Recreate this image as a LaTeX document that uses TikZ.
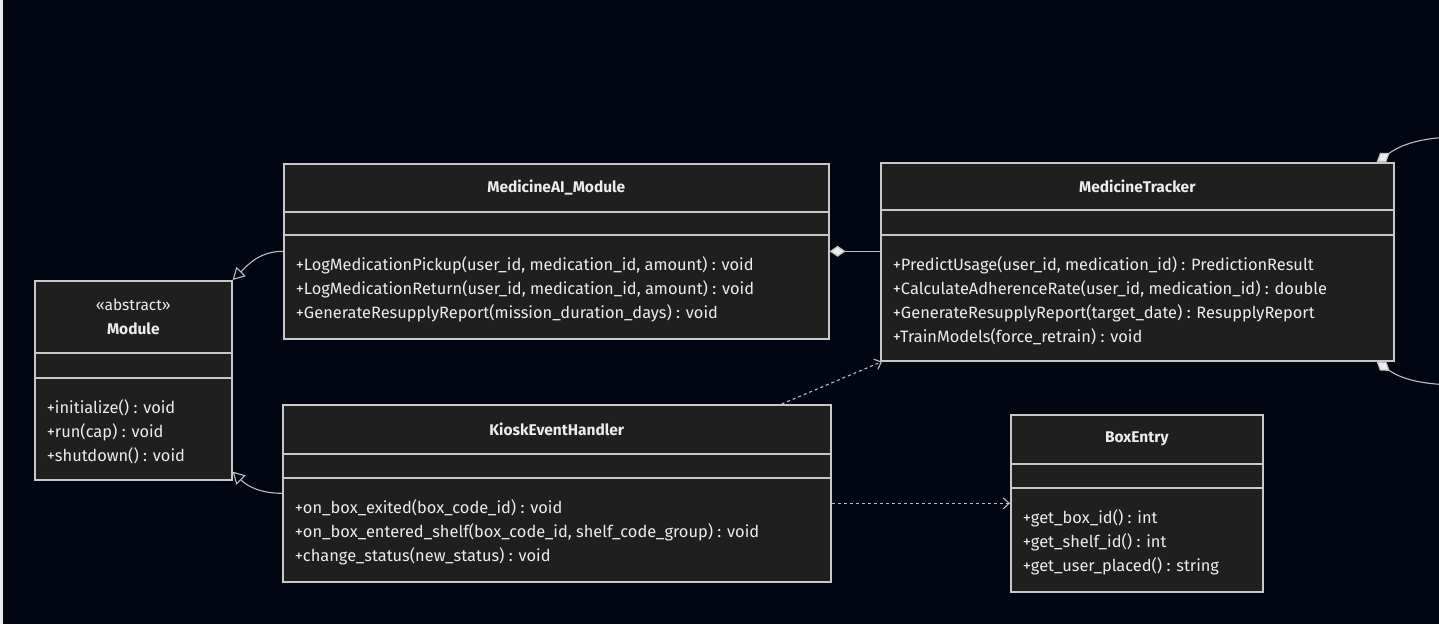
\documentclass[tikz,border=0pt]{standalone}
\usepackage{fontspec}
\setmainfont{Fira Sans}
\usetikzlibrary{shapes,shapes.multipart,arrows.meta,calc}

\definecolor{bgnavy}{RGB}{2,6,18}
\definecolor{boxfill}{RGB}{31,31,31}
\definecolor{boxline}{RGB}{200,200,200}
\definecolor{txtgray}{RGB}{236,236,236}
\definecolor{wirecol}{RGB}{190,190,190}

% class compartments: width, height, text
\newcommand{\clhead}[3]{\parbox[c][#2pt][c]{#1pt}{\centering\fontsize{15.5}{24}\selectfont\bfseries #3}}
\newcommand{\clgap}[2]{\parbox[c][#2pt][c]{#1pt}{\mbox{}}}
\newcommand{\clbody}[3]{\parbox[c][#2pt][c]{#1pt}{\raggedright\vspace*{6pt}#3}}

\begin{document}
\begin{tikzpicture}[x=1pt,y=-1pt]
			\tikzstyle{umlclass}=[rectangle split, rectangle split parts=3, draw=boxline, line width=1.6pt, fill=boxfill, inner xsep=12pt, inner ysep=0pt, anchor=north west, text=txtgray, font=\fontsize{16.4}{24}\selectfont]
			\tikzstyle{wire}=[draw=wirecol, line width=1.1pt]
			\tikzstyle{inherit}=[wire, -{Triangle[open, length=12pt, width=13pt]}]
			\tikzstyle{depend}=[wire, dash pattern=on 3pt off 3pt, -{Straight Barb[length=6pt, width=11pt]}]
			\tikzstyle{compose}=[wire, {Diamond[length=16pt, width=11pt, fill=txtgray]}-]
			\useasboundingbox (0,0) rectangle (1439,624);
			\fill[bgnavy] (0,0) rectangle (1439,624);
			\fill[white!85!gray] (0,0) rectangle (3,624);

			\node[umlclass] (module) at (34,280) {\clhead{173}{70.4}{{\mdseries «abstract»}\\ Module}
				\nodepart{two} \clgap{173}{23.4}
				\nodepart{three} \clbody{173}{100.4}{+initialize() : void\\ +run(cap) : void\\ +shutdown() : void}};
			\node[umlclass] (medai) at (283,163) {\clhead{521}{46.4}{MedicineAI\_Module}
				\nodepart{two} \clgap{521}{21.4}
				\nodepart{three} \clbody{521}{102.4}{+LogMedicationPickup(user\_id, medication\_id, amount) : void\\ +LogMedicationReturn(user\_id, medication\_id, amount) : void\\ +GenerateResupplyReport(mission\_duration\_days) : void}};
			\node[umlclass] (tracker) at (880,162) {\clhead{489}{45.4}{MedicineTracker}
				\nodepart{two} \clgap{489}{23.4}
				\nodepart{three} \clbody{489}{124.4}{+PredictUsage(user\_id, medication\_id) : PredictionResult\\ +CalculateAdherenceRate(user\_id, medication\_id) : double\\ +GenerateResupplyReport(target\_date) : ResupplyReport\\ +TrainModels(force\_retrain) : void}};
			\node[umlclass] (kiosk) at (282,404) {\clhead{524}{47.4}{KioskEventHandler}
				\nodepart{two} \clgap{524}{22.4}
				\nodepart{three} \clbody{524}{102.4}{+on\_box\_exited(box\_code\_id) : void\\ +on\_box\_entered\_shelf(box\_code\_id, shelf\_code\_group) : void\\ +change\_status(new\_status) : void}};
			\node[umlclass] (boxentry) at (1010,414) {\clhead{228}{47.4}{BoxEntry}
				\nodepart{two} \clgap{228}{22.4}
				\nodepart{three} \clbody{228}{102.4}{+get\_box\_id() : int\\ +get\_shelf\_id() : int\\ +get\_user\_placed() : string}};

			\coordinate (offtop) at (1452,137);
			\coordinate (offbot) at (1452,385);

			\draw[inherit] (medai.west) to[out=180, in=45] (module.north east);
			\draw[inherit] (kiosk.west) to[out=180, in=-45] ([yshift=9pt]module.south east);
			\draw[compose] (medai.east) -- (tracker.west |- medai.east);
			\draw[depend] ([xshift=-50pt]kiosk.north east) -- ([xshift=2pt]tracker.south west);
			\draw[depend] (kiosk.east |- boxentry.west) -- (boxentry.west);
			\draw[compose] ([xshift=-18pt]tracker.north east) to[out=35, in=182] (offtop);
			\draw[compose] ([xshift=-18pt]tracker.south east) to[out=-35, in=178] (offbot);
		\end{tikzpicture}
\end{document}
